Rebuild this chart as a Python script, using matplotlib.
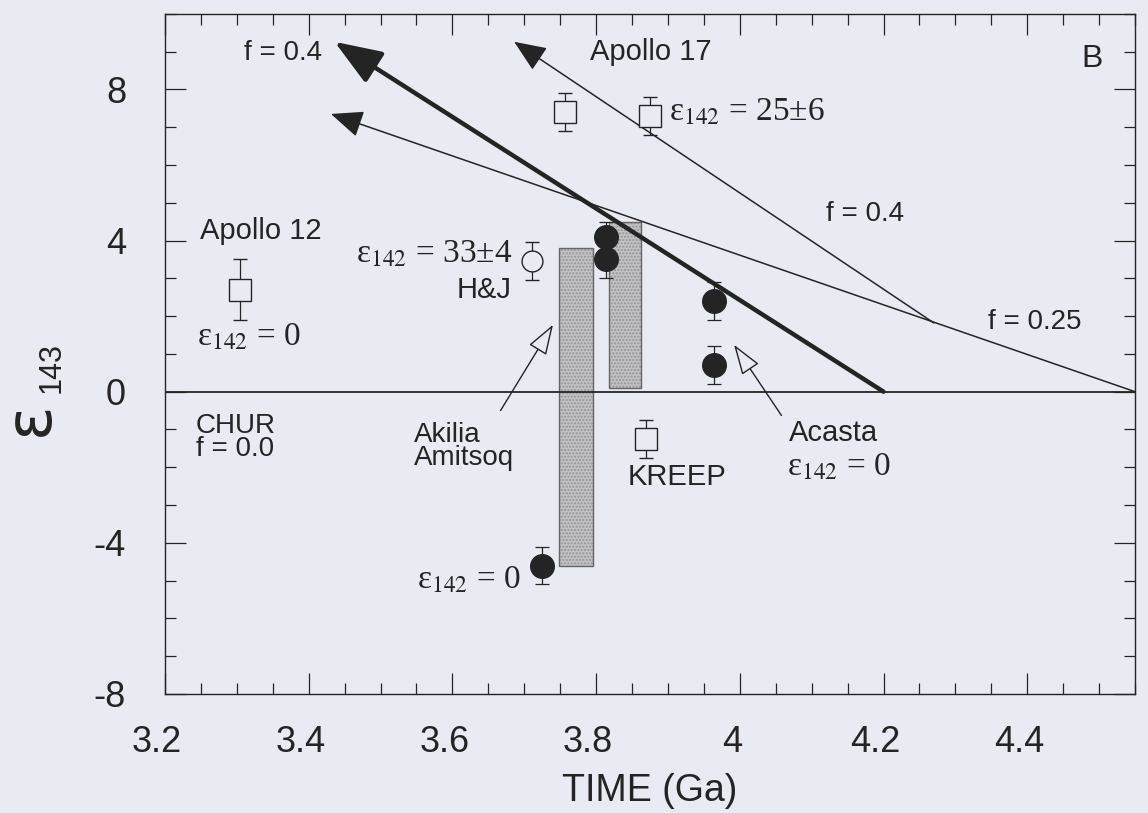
import matplotlib
matplotlib.use("Agg")
import matplotlib.pyplot as plt
from matplotlib.ticker import MultipleLocator, FixedLocator
from matplotlib.transforms import ScaledTranslation

plt.rcParams['font.family'] = ['Liberation Sans', 'DejaVu Sans']
plt.rcParams['mathtext.fontset'] = 'stix'
plt.rcParams['axes.unicode_minus'] = False

BG = '#e8ebf1'
INK = '#242424'

# ---- data ----
x_ticks = [3.2, 3.4, 3.6, 3.8, 4.0, 4.2, 4.4]
x_tick_labels = ['3.2', '3.4', '3.6', '3.8', '4', '4.2', '4.4']
y_ticks = [-8, -4, 0, 4, 8]
y_tick_labels = ['-8', '-4', '0', '4', '8']

# open squares (lunar samples): Apollo 12, Apollo 17 (2), KREEP
sq_x = [3.304, 3.757, 3.875, 3.869]
sq_y = [2.7, 7.4, 7.3, -1.25]
sq_err = [0.8, 0.5, 0.5, 0.5]

# open circle (H&J)
oc_x = [3.711]
oc_y = [3.45]
oc_err = [0.5]

# filled circles (terrestrial)
fc_x = [3.814, 3.814, 3.964, 3.964, 3.725]
fc_y = [4.1, 3.5, 2.4, 0.7, -4.6]
fc_err_lo = [0.0, 0.5, 0.5, 0.5, 0.5]
fc_err_hi = [0.4, 0.0, 0.5, 0.5, 0.5]

# shaded ranges (Akilia/Amitsoq and second range)
bar_left = [3.748, 3.818]
bar_right = [3.796, 3.862]
bar_bottom = [-4.6, 0.1]
bar_top = [3.8, 4.5]

# evolution lines: (tail x, tail y) -> (tip x, tip y)
thick_tail = (4.20, 0.0)
thick_tip = (3.436, 9.26)
f025_tail = (4.55, 0.0)
f025_tip = (3.431, 7.35)
f04_tail = (4.27, 1.82)
f04_tip = (3.686, 9.26)

# CHUR reference
chur_x = [3.2, 4.55]
chur_y = [0.0, 0.0]

# hollow pointer arrows: tail -> tip
akilia_tail = (3.667, -0.50)
akilia_tip = (3.740, 1.77)
acasta_tail = (4.058, -0.63)
acasta_tip = (3.992, 1.24)

fig = plt.figure(figsize=(11.48, 8.13), dpi=100, facecolor=BG)
ax = fig.add_axes([0.1437, 0.1464, 0.845, 0.8366], facecolor=BG)
ax.set_xlim(3.2, 4.55)
ax.set_ylim(-8, 10)

# bars
for l, r, b, t in zip(bar_left, bar_right, bar_bottom, bar_top):
    ax.bar(l, t - b, bottom=b, width=r - l, align='edge', color='#c2c2c4',
           hatch='.....', edgecolor='#949496', linewidth=0, zorder=2)
    ax.bar(l, t - b, bottom=b, width=r - l, align='edge', fill=False,
           edgecolor='#666666', linewidth=1.0, zorder=2.1)

# CHUR line
ax.plot(chur_x, chur_y, color=INK, lw=1.3, zorder=3)

def arrow(tail, tip, lw, hl, hw, fc=INK, ec=INK):
    ax.annotate('', xy=tip, xytext=tail,
                arrowprops=dict(arrowstyle=f'-|>,head_length={hl},head_width={hw}',
                                mutation_scale=20, lw=lw, fc=fc, ec=ec,
                                shrinkA=0, shrinkB=0), zorder=4)

arrow(thick_tail, thick_tip, 3.2, 1.45, 0.55)
arrow(f025_tail, f025_tip, 1.1, 1.0, 0.42)
arrow(f04_tail, f04_tip, 1.1, 1.0, 0.42)
arrow(akilia_tail, akilia_tip, 1.0, 0.95, 0.32, fc=BG)
arrow(acasta_tail, acasta_tip, 1.0, 0.95, 0.32, fc=BG)

# points
ax.errorbar(sq_x, sq_y, yerr=sq_err, fmt='s', ms=16, mfc=BG, mec=INK, mew=1.0,
            ecolor=INK, elinewidth=0.9, capsize=5, capthick=0.9, zorder=5)
ax.errorbar(oc_x, oc_y, yerr=oc_err, fmt='o', ms=15, mfc=BG, mec=INK, mew=1.0,
            ecolor=INK, elinewidth=0.9, capsize=5, capthick=0.9, zorder=5)
ax.errorbar(fc_x, fc_y, yerr=[fc_err_lo, fc_err_hi], fmt='o', ms=17, mfc=INK, mec=INK,
            ecolor=INK, elinewidth=0.9, capsize=5, capthick=0.9, zorder=5)

# ticks
ax.xaxis.set_major_locator(FixedLocator(x_ticks))
ax.set_xticklabels(x_tick_labels)
ax.xaxis.set_minor_locator(MultipleLocator(0.05))
ax.yaxis.set_major_locator(FixedLocator(y_ticks))
ax.set_yticklabels(y_tick_labels)
ax.yaxis.set_minor_locator(MultipleLocator(1))
ax.tick_params(which='both', direction='in', top=True, right=True, colors=INK,
               width=0.9)
ax.tick_params(which='major', length=15, labelsize=26)
ax.tick_params(which='minor', length=8)
ax.tick_params(axis='x', which='major', pad=22)
ax.tick_params(axis='y', which='major', pad=28)
for s in ax.spines.values():
    s.set_linewidth(1.0)
    s.set_color(INK)
shift = ScaledTranslation(-0.08, 0, fig.dpi_scale_trans)
for lab in ax.get_xticklabels():
    lab.set_transform(lab.get_transform() + shift)

ax.set_xlabel('TIME (Ga)', fontsize=27, color=INK, labelpad=10)
fig.text(0.026, 0.485, 'ε', rotation=90, fontsize=46, family='DejaVu Sans',
         color=INK, ha='center', va='center')
fig.text(0.045, 0.548, '143', rotation=90, fontsize=22, color=INK,
         ha='center', va='center')

# annotations
tk = dict(color=INK)
sf = dict(color=INK, fontsize=24, family=['Liberation Serif', 'DejaVu Serif'], va='center')
FS = 21
ax.text(3.365, 8.95, 'f = 0.4', fontsize=20, ha='center', va='center', **tk)
ax.text(3.876, 9.0, 'Apollo 17', fontsize=FS, ha='center', va='center', **tk)
ax.text(4.49, 8.8, 'B', fontsize=23, ha='center', va='center', **tk)
ax.text(3.902, 7.4, 'ε$_{142}$ = 25±6', ha='left', **sf)
ax.text(4.12, 4.7, 'f = 0.4', fontsize=20, ha='left', va='center', **tk)
ax.text(4.345, 1.85, 'f = 0.25', fontsize=20, ha='left', va='center', **tk)
ax.text(3.333, 4.25, 'Apollo 12', fontsize=FS, ha='center', va='center', **tk)
ax.text(3.245, 1.45, 'ε$_{142}$ = 0', ha='left', **sf)
ax.text(3.683, 3.65, 'ε$_{142}$ = 33±4', ha='right', **sf)
ax.text(3.683, 2.7, 'H&J', fontsize=FS, ha='right', va='center', **tk)
ax.text(3.243, -1.2, 'CHUR\nf = 0.0', fontsize=20, ha='left', va='center',
        linespacing=0.85, **tk)
ax.text(3.546, -1.45, 'Akilia\nAmitsoq', fontsize=20, ha='left', va='center',
        linespacing=0.85, **tk)
ax.text(3.844, -2.25, 'KREEP', fontsize=FS, ha='left', va='center', **tk)
ax.text(4.068, -1.1, 'Acasta', fontsize=FS, ha='left', va='center', **tk)
ax.text(4.066, -2.0, 'ε$_{142}$ = 0', ha='left', **sf)
ax.text(3.696, -5.0, 'ε$_{142}$ = 0', ha='right', **sf)

fig.savefig('out.png', dpi=100, facecolor=BG)
